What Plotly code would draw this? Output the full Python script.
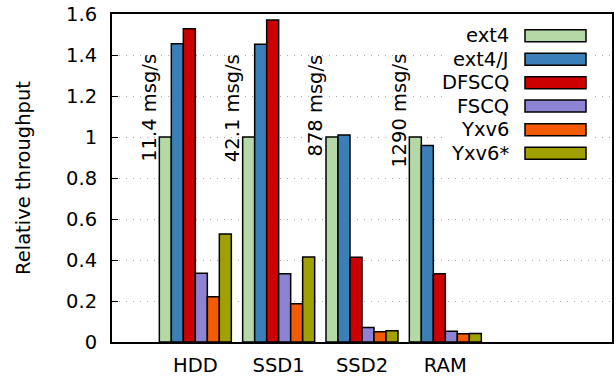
import plotly.graph_objects as go

categories = ["HDD", "SSD1", "SSD2", "RAM"]
series_names = ["ext4", "ext4/J", "DFSCQ", "FSCQ", "Yxv6", "Yxv6*"]
ext4 = [1.0, 1.0, 1.0, 1.0]
ext4_j = [1.455, 1.452, 1.01, 0.958]
dfscq = [1.528, 1.571, 0.413, 0.333]
fscq = [0.335, 0.333, 0.071, 0.052]
yxv6 = [0.221, 0.187, 0.050, 0.040]
yxv6_star = [0.527, 0.415, 0.055, 0.042]
baseline_labels = ["11.4 msg/s", "42.1 msg/s", "878 msg/s", "1290 msg/s"]
y_ticks = [0, 0.2, 0.4, 0.6, 0.8, 1, 1.2, 1.4, 1.6]

colors = ["#b4d9a7", "#3a7fb8", "#cc0000", "#8c83d3", "#f45a00", "#a0a000"]
series = [ext4, ext4_j, dfscq, fscq, yxv6, yxv6_star]

FONT = "DejaVu Sans"
FS = 19.5

fig = go.Figure()
for name, vals, col in zip(series_names, series, colors):
    fig.add_trace(go.Bar(
        x=categories, y=vals, name=name,
        marker=dict(color=col, line=dict(color="black", width=1.5)),
        showlegend=False,
    ))

# rotated baseline labels
for i, lab in enumerate(baseline_labels):
    fig.add_annotation(
        x=i - 0.56, y=1.414, xref="x", yref="y", text=lab,
        textangle=-90, showarrow=False, xanchor="center", yanchor="top",
        font=dict(family=FONT, size=FS, color="black"),
    )

# custom legend (text left of swatch, as in reference)
L, R, T, B = 112, 612, 14, 342
W, H = R - L, B - T
def px(x):
    return (x - L) / W
def py(y):
    return (B - y) / H

fig.add_shape(type="rect", xref="paper", yref="paper",
              x0=px(443), x1=px(592), y0=py(166), y1=py(22),
              fillcolor="white", line=dict(width=0), layer="above")
row_y = [35.7, 59.3, 82.7, 106.0, 129.7, 153.3]
for name, col, yc in zip(series_names, colors, row_y):
    fig.add_shape(type="rect", xref="paper", yref="paper",
                  x0=px(525), x1=px(586), y0=py(yc + 6), y1=py(yc - 6),
                  fillcolor=col, line=dict(color="black", width=1.5), layer="above")
    fig.add_annotation(x=px(511), y=py(yc), xref="paper", yref="paper",
                       text=name, showarrow=False, xanchor="right", yanchor="middle",
                       font=dict(family=FONT, size=FS, color="black"))

fig.update_layout(
    width=616, height=382,
    margin=dict(l=112, r=4, t=14, b=40),
    paper_bgcolor="white", plot_bgcolor="white",
    barmode="group", bargap=0.136, bargroupgap=0,
    font=dict(family=FONT, size=FS, color="black"),
)
fig.update_xaxes(
    type="category", range=[-1, 5],
    showline=True, linecolor="black", linewidth=2, mirror=True,
    ticks="", showgrid=False, ticklabelstandoff=5, automargin=False,
    tickfont=dict(family=FONT, size=FS),
)
fig.update_yaxes(
    range=[0, 1.6], tickvals=y_ticks, ticktext=[f"{v:g}" for v in y_ticks],
    showline=True, linecolor="black", linewidth=2, mirror=True,
    ticks="inside", ticklen=6, tickcolor="black", tickwidth=1,
    showgrid=True, gridcolor="#aaaaaa", gridwidth=1, griddash="1px,6px",
    zeroline=False, ticklabelstandoff=9, automargin=False,
    title=dict(text="Relative throughput", font=dict(family=FONT, size=FS), standoff=30),
    tickfont=dict(family=FONT, size=FS),
)

fig.write_html(
    "out.html",
    config={"displayModeBar": False},
    post_script="document.body.style.margin='0';document.body.style.overflow='hidden';",
)
